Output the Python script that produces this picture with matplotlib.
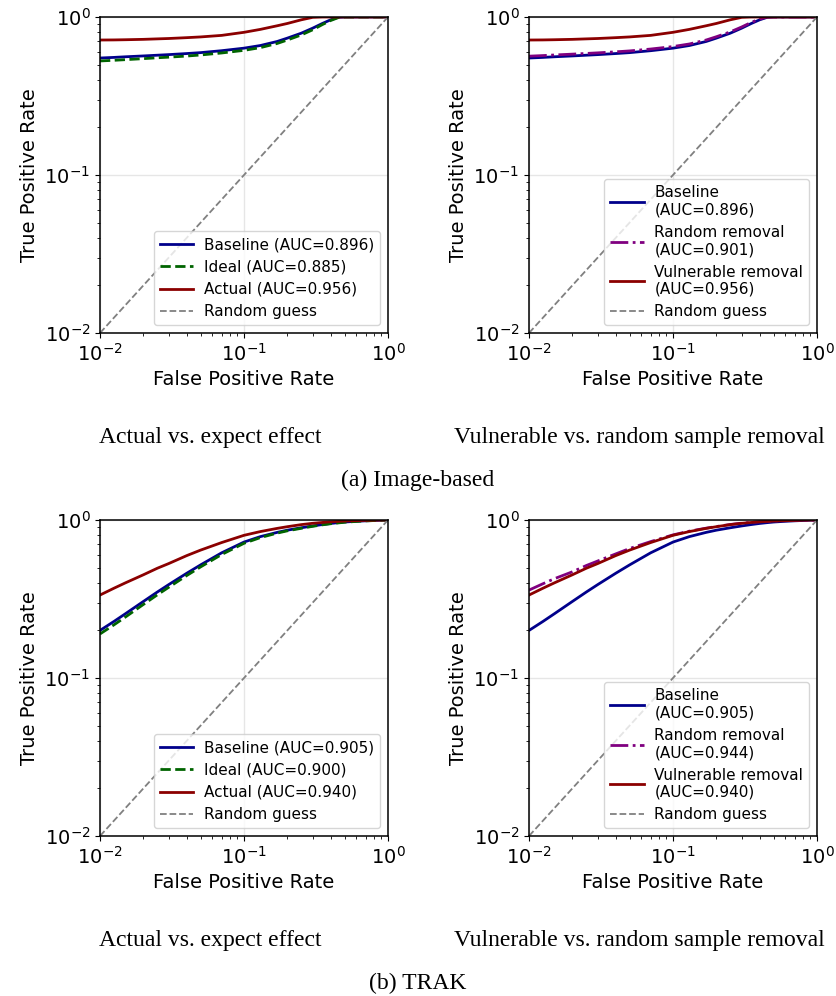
import numpy as np
import matplotlib.pyplot as plt

# FPR grid the curves were read at
fpr = [0.01, 0.0125, 0.015, 0.02, 0.025, 0.03, 0.04, 0.05, 0.07, 0.1, 0.13, 0.17,
       0.2, 0.25, 0.3, 0.35, 0.4, 0.45, 0.5, 0.6, 0.7, 0.85, 1.0]

# (a) Image-based
img_baseline = [0.55, 0.555, 0.56, 0.567, 0.573, 0.578, 0.587, 0.595, 0.612, 0.635, 0.66, 0.70,
                0.735, 0.79, 0.85, 0.91, 0.96, 0.995, 1.0, 1.0, 1.0, 1.0, 1.0]
img_ideal = [0.527, 0.532, 0.537, 0.545, 0.552, 0.557, 0.566, 0.575, 0.592, 0.615, 0.64, 0.68,
             0.715, 0.77, 0.83, 0.895, 0.95, 0.99, 1.0, 1.0, 1.0, 1.0, 1.0]
img_actual = [0.715, 0.716, 0.718, 0.722, 0.727, 0.731, 0.74, 0.748, 0.765, 0.80, 0.835, 0.88,
              0.91, 0.96, 0.995, 1.0, 1.0, 1.0, 1.0, 1.0, 1.0, 1.0, 1.0]
img_random = [0.565, 0.57, 0.575, 0.582, 0.588, 0.593, 0.602, 0.61, 0.627, 0.65, 0.675, 0.715,
              0.75, 0.805, 0.865, 0.925, 0.97, 1.0, 1.0, 1.0, 1.0, 1.0, 1.0]

# (b) TRAK
trak_baseline = [0.20, 0.228, 0.255, 0.305, 0.35, 0.39, 0.46, 0.52, 0.62, 0.725, 0.785, 0.835,
                 0.862, 0.893, 0.917, 0.936, 0.951, 0.962, 0.971, 0.981, 0.988, 0.995, 1.0]
trak_ideal = [0.19, 0.217, 0.243, 0.292, 0.336, 0.375, 0.445, 0.505, 0.605, 0.712, 0.774, 0.826,
              0.854, 0.886, 0.912, 0.932, 0.947, 0.958, 0.968, 0.979, 0.987, 0.994, 1.0]
trak_actual = [0.335, 0.37, 0.40, 0.45, 0.495, 0.53, 0.595, 0.645, 0.72, 0.80, 0.845, 0.885,
               0.907, 0.935, 0.953, 0.965, 0.974, 0.98, 0.985, 0.99, 0.994, 0.998, 1.0]
trak_random = [0.36, 0.395, 0.425, 0.47, 0.515, 0.55, 0.61, 0.66, 0.73, 0.805, 0.85, 0.888,
               0.909, 0.937, 0.955, 0.966, 0.975, 0.98, 0.986, 0.99, 0.994, 0.998, 1.0]

auc_img = {'baseline': '0.896', 'ideal': '0.885', 'actual': '0.956', 'random': '0.901'}
auc_trak = {'baseline': '0.905', 'ideal': '0.900', 'actual': '0.940', 'random': '0.944'}

plt.rcParams['font.family'] = 'DejaVu Sans'

fig = plt.figure(figsize=(8.36, 9.96), dpi=100)

W = 288 / 836
H = 316 / 996


def style_axes(ax):
    ax.set_xscale('log')
    ax.set_yscale('log')
    ax.set_xlim(0.01, 1)
    ax.set_ylim(0.01, 1)
    ax.grid(True, which='major', color='#e6e6e6', linewidth=1)
    ax.set_xlabel('False Positive Rate', fontsize=14)
    ax.set_ylabel('True Positive Rate', fontsize=14)
    ax.tick_params(labelsize=14)
    for s in ax.spines.values():
        s.set_linewidth(1.1)


def effect_panel(ax, base, ideal, actual, auc):
    ax.plot(fpr, base, color='darkblue', lw=2, label=f"Baseline (AUC={auc['baseline']})")
    ax.plot(fpr, ideal, color='darkgreen', lw=2, ls='--', label=f"Ideal (AUC={auc['ideal']})")
    ax.plot(fpr, actual, color='darkred', lw=2, label=f"Actual (AUC={auc['actual']})")
    ax.plot([0.01, 1], [0.01, 1], color='gray', lw=1.3, ls='--', label='Random guess')
    style_axes(ax)
    ax.legend(loc='lower right', fontsize=11, handlelength=2.2, labelspacing=0.48,
              handletextpad=0.7)


def removal_panel(ax, base, rand, vuln, auc):
    ax.plot(fpr, base, color='darkblue', lw=2, label=f"Baseline\n(AUC={auc['baseline']})")
    ax.plot(fpr, rand, color='purple', lw=2, ls='-.', label=f"Random removal\n(AUC={auc['random']})")
    ax.plot(fpr, vuln, color='darkred', lw=2, label=f"Vulnerable removal\n(AUC={auc['actual']})")
    ax.plot([0.01, 1], [0.01, 1], color='gray', lw=1.3, ls='--', label='Random guess')
    style_axes(ax)
    ax.legend(loc='lower right', fontsize=11, handlelength=2.2, labelspacing=0.48,
              handletextpad=0.7)


ax1 = fig.add_axes([100 / 836, 1 - 333 / 996, W, H])
ax2 = fig.add_axes([529 / 836, 1 - 333 / 996, W, H])
ax3 = fig.add_axes([100 / 836, 1 - 836 / 996, W, H])
ax4 = fig.add_axes([529 / 836, 1 - 836 / 996, W, H])

effect_panel(ax1, img_baseline, img_ideal, img_actual, auc_img)
removal_panel(ax2, img_baseline, img_random, img_actual, auc_img)
effect_panel(ax3, trak_baseline, trak_ideal, trak_actual, auc_trak)
removal_panel(ax4, trak_baseline, trak_random, trak_actual, auc_trak)

serif = dict(family='Liberation Serif', fontsize=17, ha='center', va='center')
for yc, sub in [(437, '(a) Image-based'), (940, '(b) TRAK')]:
    fig.text(210 / 836, 1 - yc / 996, 'Actual vs. expect effect', **serif)
    fig.text(639 / 836, 1 - yc / 996, 'Vulnerable vs. random sample removal', **serif)
    fig.text(418 / 836, 1 - (yc + 43) / 996, sub, **serif)

fig.savefig('out.png', dpi=100)
